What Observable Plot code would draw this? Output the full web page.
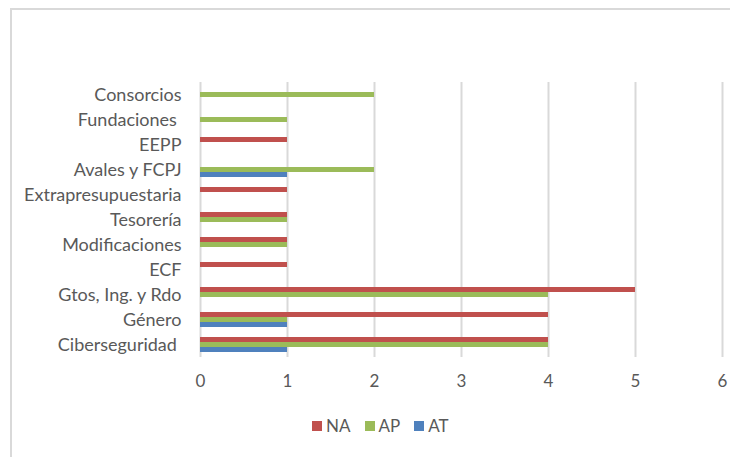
<!DOCTYPE html>
<html><head><meta charset="utf-8">
<script src="https://cdn.jsdelivr.net/npm/d3@7"></script>
<script src="https://cdn.jsdelivr.net/npm/@observablehq/plot@0.6"></script>
<style>
body{margin:0;background:#fff;font-family:Lato, "Open Sans", sans-serif;}
#frame{position:absolute;left:10px;top:8px;width:740px;height:470px;border:2px solid #d9d9d9;box-sizing:border-box;}
#chart{position:absolute;left:0;top:0;}
#legend{position:absolute;top:415px;left:312px;display:flex;align-items:center;font-size:17px;color:#595959;font-family:Lato, sans-serif;}
#legend .item{display:flex;align-items:center;margin-right:14px;}
#legend .sw{width:10px;height:10px;margin-right:4px;}
</style></head>
<body>
<div id="frame"></div>
<div id="chart"></div>
<div id="legend"></div>
<script>
const categories = ["Ciberseguridad ", "Género", "Gtos, Ing. y Rdo", "ECF", "Modificaciones", "Tesorería", "Extrapresupuestaria", "Avales y FCPJ", "EEPP", "Fundaciones ", "Consorcios"];
const seriesNames = ["NA", "AP", "AT"];
const NA = [4, 4, 5, 1, 1, 1, 1, 0, 1, 0, 0];
const AP = [4, 1, 4, 0, 1, 1, 0, 2, 0, 1, 2];
const AT = [1, 1, 0, 0, 0, 0, 0, 1, 0, 0, 0];
const xTicks = [0, 1, 2, 3, 4, 5, 6];
const colors = ["#c0504d", "#9bbb59", "#4f81bd"];

const values = {NA, AP, AT};
const data = [];
categories.forEach((c, i) => {
  seriesNames.forEach(s => data.push({cat: c, series: s, value: values[s][i]}));
});

const chart = Plot.plot({
  width: 730, height: 400,
  marginLeft: 200, marginRight: 8, marginTop: 79, marginBottom: 41,
  style: {fontFamily: "Lato, sans-serif", fontSize: "16px", color: "#595959", background: "transparent"},
  x: {domain: [0, 6]},
  fy: {domain: categories.slice().reverse(), padding: 0},
  y: {domain: seriesNames, paddingInner: 0, paddingOuter: 1.0, axis: null},
  color: {domain: seriesNames, range: colors},
  marks: [
    Plot.gridX(xTicks, {stroke: "#d9d9d9", strokeOpacity: 1, strokeWidth: 2}),
    Plot.barX(data.filter(d => d.value > 0), {fy: "cat", y: "series", x: "value", fill: "series", insetTop: 0, insetBottom: 0}),
    Plot.axisFy({anchor: "left", tickSize: 0, tickPadding: 19, label: null, fontSize: 18, tickFormat: d => d.replace(/ $/, "\u00a0")}),
    Plot.axisX(xTicks, {anchor: "bottom", tickSize: 0, tickPadding: 17, label: null, fontSize: 17})
  ]
});
document.getElementById("chart").appendChild(chart);

const legend = document.getElementById("legend");
seriesNames.forEach((s, i) => {
  const item = document.createElement("div");
  item.className = "item";
  const sw = document.createElement("div");
  sw.className = "sw";
  sw.style.background = colors[i];
  const t = document.createElement("span");
  t.textContent = s;
  item.appendChild(sw); item.appendChild(t);
  legend.appendChild(item);
});
</script>
</body></html>
